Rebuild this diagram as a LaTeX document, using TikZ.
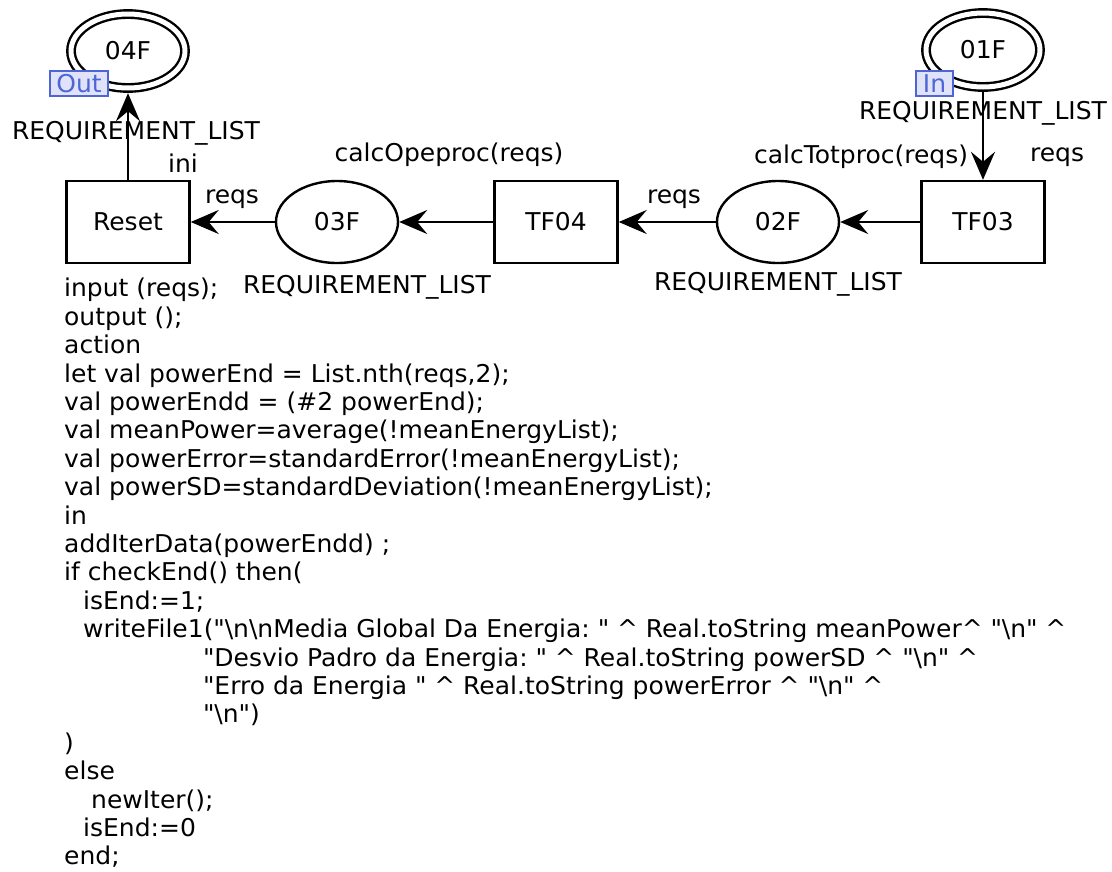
\documentclass[tikz,border=0pt]{standalone}
\usepackage{fontspec}
\setmainfont{DejaVu Sans}[FakeStretch=1.02]
\usetikzlibrary{positioning,arrows.meta,shapes.geometric}
\definecolor{TagBlue}{RGB}{77,101,213}
\definecolor{TagFill}{RGB}{224,226,250}
\newcommand\dq{\textquotedbl}
\frenchspacing

\begin{document}
\begin{tikzpicture}[x=1pt,y=-1pt, line width=2.4pt,
  every node/.style={font=\fontsize{24.5}{28.4}\selectfont},
  place/.style={ellipse, draw, inner sep=0pt, minimum width=122pt, minimum height=82pt},
  portplace/.style={ellipse, draw, double, double distance=5pt, inner sep=0pt, minimum width=114pt, minimum height=74pt},
  trans/.style={rectangle, draw, inner sep=0pt, minimum width=123pt, minimum height=82pt},
  tag/.style={rectangle, draw=TagBlue, fill=TagFill, text=TagBlue, line width=1.8pt, inner sep=1pt, minimum height=25pt},
  pnarc/.style={-{Stealth[length=28pt,width=24pt,inset=10pt]}}]
  \useasboundingbox (0,0) rectangle (1112,871);

  % places and transitions
  \node[portplace] (p04) at (128,51) {04F};
  \node[trans] (reset) at (128,222) {Reset};
  \node[place] (p03) at (337,222) {03F};
  \node[trans] (tf04) at (556,222) {TF04};
  \node[place] (p02) at (778,222) {02F};
  \node[trans] (tf03) at (983,222) {TF03};
  \node[portplace] (p01) at (983,50) {01F};

  % port tags
  \node[tag, minimum width=58pt] (out) at (79,83.5) {Out};
  \node[tag, minimum width=37pt] (in) at (934.5,83.5) {In};

  % arcs
  \draw[pnarc, shorten <=4pt] (p01) -- (tf03);
  \draw[pnarc] (tf03) -- (p02);
  \draw[pnarc] (p02) -- (tf04);
  \draw[pnarc] (tf04) -- (p03);
  \draw[pnarc] (p03) -- (reset);
  \draw[pnarc, shorten >=4pt] (reset) -- (p04);

  % colour sets and inscriptions
  \node (cs01) at (983,113) {REQUIREMENT\_LIST};
  \node (cs02) at (778,284) {REQUIREMENT\_LIST};
  \node (cs03) at (367,287) {REQUIREMENT\_LIST};
  \node (cs04) at (136,133) {REQUIREMENT\_LIST};
  \node (ini) at (183,163) {ini};
  \node (e01) at (1057,157) {reqs};
  \node (e02) at (861,157) {calcTotproc(reqs)};
  \node (e03) at (674,199) {reqs};
  \node (e04) at (449,155) {calcOpeproc(reqs)};
  \node (e05) at (232,199) {reqs};

  % code segment of Reset
  \node[anchor=north west, align=left, inner sep=0pt] (code) at (63,277) {%
    input (reqs);\\
    output ();\\
    action\\
    let val powerEnd = List.nth(reqs,2);\\
    val powerEndd = (\#2 powerEnd);\\
    val meanPower=average(!meanEnergyList);\\
    val powerError=standardError(!meanEnergyList);\\
    val powerSD=standardDeviation(!meanEnergyList);\\
    in\\
    addIterData(powerEndd) ;\\
    if checkEnd() then(\\
    \hspace*{19pt}isEnd:=1;\\
    \hspace*{19pt}writeFile1(\dq\textbackslash n\textbackslash nMedia Global Da Energia: \dq{} \textasciicircum{} Real.toString meanPower\textasciicircum{} \dq\textbackslash n\dq{} \textasciicircum\\
    \hspace*{139pt}\dq Desvio Padro da Energia: \dq{} \textasciicircum{} Real.toString powerSD \textasciicircum{} \dq\textbackslash n\dq{} \textasciicircum\\
    \hspace*{139pt}\dq Erro da Energia \dq{} \textasciicircum{} Real.toString powerError \textasciicircum{} \dq\textbackslash n\dq{} \textasciicircum\\
    \hspace*{139pt}\dq\textbackslash n\dq)\\
    )\\
    else\\
    \hspace*{27pt}newIter();\\
    \hspace*{19pt}isEnd:=0\\
    end;};
\end{tikzpicture}
\end{document}
